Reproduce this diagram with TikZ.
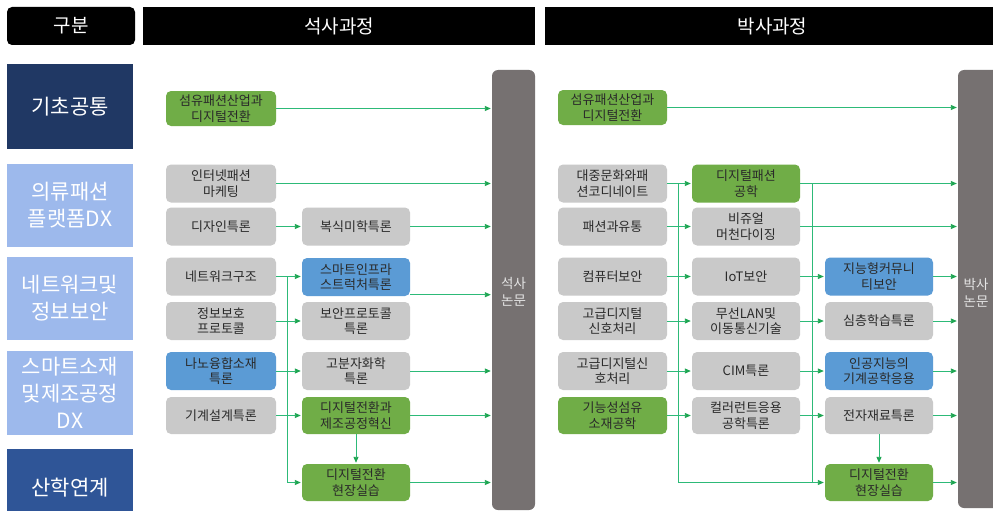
\documentclass[tikz,border=0pt]{standalone}
\usepackage{fontspec}
\setmainfont{Noto Sans CJK KR}
\usetikzlibrary{arrows.meta,calc}
\definecolor{boxgray}{HTML}{C9C9C9}
\definecolor{boxgreen}{HTML}{70AD47}
\definecolor{boxblue}{HTML}{5B9BD5}
\definecolor{catlight}{HTML}{9DB9EC}
\definecolor{catdark}{HTML}{203864}
\definecolor{catmid}{HTML}{2F5597}
\definecolor{barg}{HTML}{767171}
\definecolor{conn}{HTML}{2DBA78}
\definecolor{tipc}{HTML}{1FA653}
\definecolor{txt}{HTML}{2A2A2A}
\begin{document}
\begin{tikzpicture}[x=1pt,y=-1pt,
  course/.style={rounded corners=5pt, align=center, text=txt,
    font=\fontsize{13}{15.5}\selectfont, inner sep=0pt, minimum height=38pt},
  cgray/.style={course, fill=boxgray},
  cgreen/.style={course, fill=boxgreen},
  cblue/.style={course, fill=boxblue},
  wA/.style={minimum width=110pt},
  wB/.style={minimum width=108pt},
  cat/.style={align=center, text=white, font=\fontsize{21}{27}\selectfont,
    inner sep=0pt, minimum width=126pt},
  hdr/.style={fill=black, text=white, font=\fontsize{19}{22}\selectfont,
    inner sep=0pt, minimum height=38pt},
  bar/.style={fill=barg, rounded corners=6pt, inner sep=0pt},
  bartxt/.style={align=center, text=white!90!black, font=\fontsize{13.5}{17}\selectfont},
  wire/.style={draw=conn, line width=0.9pt},
  link/.style={wire, -{Triangle[length=6pt,width=5pt,color=tipc]}, shorten >=1pt}
]
\useasboundingbox (0,0) rectangle (993,511);
\fill[white] (0,0) rectangle (993,511);

% headers
\node[hdr, rounded corners=5pt, minimum width=128pt] (h0) at (71,26) {구분};
\node[hdr, minimum width=392pt] (h1) at (339,26) {석사과정};
\node[hdr, minimum width=455pt] (h2) at (772.5,26) {박사과정};

% categories
\node[cat, fill=catdark, minimum height=85pt] (c1) at (70,106.5) {기초공통};
\node[cat, fill=catlight, minimum height=83pt] (c2) at (70,205.5) {의류패션\\플랫폼DX};
\node[cat, fill=catlight, minimum height=83pt] (c3) at (70,298.5) {네트워크및\\정보보안};
\node[cat, fill=catlight, minimum height=84pt] (c4) at (70,393) {스마트소재\\및제조공정\\DX};
\node[cat, fill=catmid, minimum height=78pt] (c5) at (70,488) {산학연계};

% thesis bars
\node[bar, minimum width=43pt, minimum height=440pt] (mth) at (513.5,290) {};
\node[bartxt] (mthl) at (513.5,292) {석사\\논문};
\node[bar, minimum width=42pt, minimum height=438pt] (dth) at (979,289) {};
\node[bartxt] (dthl) at (976,293) {박사\\논문};

% master courses
\node[cgreen, wA, minimum height=35pt] (m0) at (221,108.5) {섬유패션산업과\\디지털전환};
\node[cgray, wA] (m1) at (221,183.5) {인터넷패션\\마케팅};
\node[cgray, wA] (m2a) at (221,226.5) {디자인특론};
\node[cgray, wB] (m2b) at (356,226.5) {복식미학특론};
\node[cgray, wA] (m3a) at (221,276.5) {네트워크구조};
\node[cblue, wB] (m3b) at (356,277) {스마트인프라\\스트럭처특론};
\node[cgray, wA] (m4a) at (221,321) {정보보호\\프로토콜};
\node[cgray, wB] (m4b) at (356,321) {보안프로토콜\\특론};
\node[cblue, wA] (m5a) at (221,371) {나노융합소재\\특론};
\node[cgray, wB] (m5b) at (356,371) {고분자화학\\특론};
\node[cgray, wA, minimum height=37pt] (m6a) at (221,415.5) {기계설계특론};
\node[cgreen, wB, minimum height=37pt] (m6b) at (356,415.5) {디지털전환과\\제조공정혁신};
\node[cgreen, wB, minimum height=37pt] (m7b) at (356,482.5) {디지털전환\\현장실습};

% doctor courses
\node[cgreen, minimum width=109pt, minimum height=35pt] (d0) at (612.5,107.5) {섬유패션산업과\\디지털전환};
\node[cgray, minimum width=109pt] (d1a) at (612.5,183.5) {대중문화와패\\션코디네이트};
\node[cgreen, wB] (d1b) at (746,183.5) {디지털패션\\공학};
\node[cgray, minimum width=109pt] (d2a) at (612.5,226.5) {패션과유통};
\node[cgray, wB] (d2b) at (746,226.5) {비쥬얼\\머천다이징};
\node[cgray, minimum width=109pt] (d3a) at (612.5,276.5) {컴퓨터보안};
\node[cgray, wB] (d3b) at (746,276.5) {IoT보안};
\node[cblue, wB] (d3c) at (879,276.5) {지능형커뮤니\\티보안};
\node[cgray, minimum width=109pt] (d4a) at (612.5,321) {고급디지털\\신호처리};
\node[cgray, wB] (d4b) at (746,321) {무선LAN및\\이동통신기술};
\node[cgray, wB] (d4c) at (879,321) {심층학습특론};
\node[cgray, minimum width=109pt] (d5a) at (612.5,371) {고급디지털신\\호처리};
\node[cgray, wB] (d5b) at (746,371) {CIM특론};
\node[cblue, wB] (d5c) at (879,371) {인공지능의\\기계공학응용};
\node[cgreen, minimum width=109pt, minimum height=37pt] (d6a) at (612.5,415.5) {기능성섬유\\소재공학};
\node[cgray, wB, minimum height=37pt] (d6b) at (746,415.5) {컬러런트응용\\공학특론};
\node[cgray, wB, minimum height=37pt] (d6c) at (879,415.5) {전자재료특론};
\node[cgreen, wB, minimum height=37pt] (d7c) at (879,482.5) {디지털전환\\현장실습};

% master connectors
\coordinate (mtx) at (287,0);
\draw[wire] (m3a.east -| mtx) -- (m7b.west -| mtx);
\draw[link] (m7b.west -| mtx) -- (m7b.west);
\draw[link] (m0.east) -- (m0.east -| mth.west);
\draw[link] (m1.east) -- (m1.east -| mth.west);
\draw[link] (m2b.east) -- (m2b.east -| mth.west);
\draw[link] ([yshift=1.5pt]m3b.south east) -- ([yshift=1.5pt]m3b.south east -| mth.west);
\draw[link] (m5b.east) -- (m5b.east -| mth.west);
\draw[link] (m6b.east) -- (m6b.east -| mth.west);
\draw[link] (m7b.east) -- (m7b.east -| mth.west);
\draw[link] (m2a.east) -- (m2b.west);
\draw[link] (m3a.east) -- (m3a.east -| m3b.west);
\draw[link] (m4a.east) -- (m4b.west);
\draw[link] (m5a.east) -- (m5b.west);
\draw[link] (m6a.east) -- (m6b.west);
\draw[link] (m6b.south) -- (m7b.north);

% doctor connectors
\coordinate (dtx) at (678,0);
\coordinate (dty) at (812,0);
\draw[wire] (d1a.east -| dtx) -- (d7c.west -| dtx);
\draw[wire] (d1b.east -| dty) -- (d7c.west -| dty);
\draw[link] (d7c.west -| dtx) -- (d7c.west);
\draw[link] (d0.east) -- (d0.east -| dth.west);
\draw[link] (d1b.east) -- (d1b.east -| dth.west);
\draw[link] (d2b.east) -- (d2b.east -| dth.west);
\draw[link] (d3c.east) -- (d3c.east -| dth.west);
\draw[link] (d4c.east) -- (d4c.east -| dth.west);
\draw[link] (d5c.east) -- (d5c.east -| dth.west);
\draw[link] (d6c.east) -- (d6c.east -| dth.west);
\draw[link] (d7c.east) -- (d7c.east -| dth.west);
\draw[link] (d1a.east) -- (d1b.west);
\draw[link] (d2a.east) -- (d2b.west);
\draw[link] (d3a.east) -- (d3b.west);
\draw[link] (d4a.east) -- (d4b.west);
\draw[link] (d5a.east) -- (d5b.west);
\draw[link] (d6a.east) -- (d6b.west);
\draw[link] (d3b.east) -- (d3c.west);
\draw[link] (d4b.east) -- (d4c.west);
\draw[link] (d5b.east) -- (d5c.west);
\draw[link] (d6b.east) -- (d6c.west);
\draw[link] (d6c.south) -- (d7c.north);
\end{tikzpicture}
\end{document}
